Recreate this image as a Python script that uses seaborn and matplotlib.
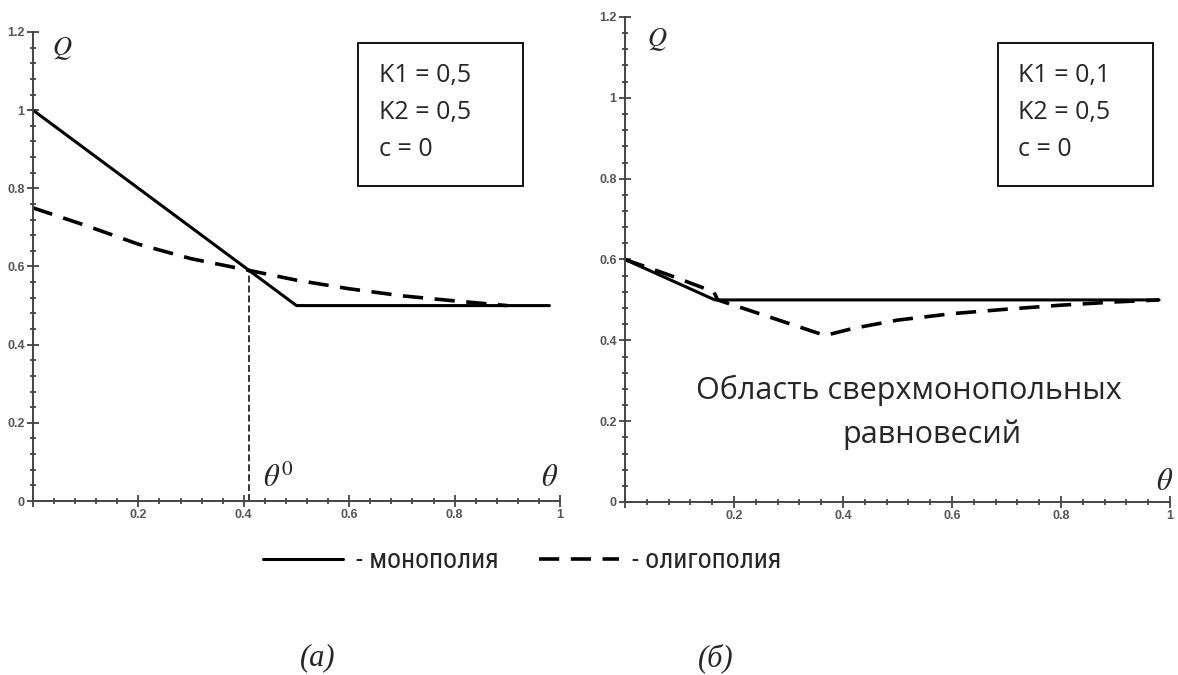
import numpy as np
import pandas as pd
import matplotlib
matplotlib.use("Agg")
import matplotlib.pyplot as plt
import seaborn as sns
from matplotlib import font_manager
from matplotlib.ticker import MultipleLocator, FuncFormatter
from matplotlib.patches import Rectangle


# ============================================================
# ДАННЫЕ
# ============================================================

# (а) K1 = 0,5; K2 = 0,5; c = 0
theta_mono_a = [0.0, 0.5, 0.98]
q_mono_a = [1.0, 0.5, 0.5]
theta_olig_a = [0.0, 0.1, 0.2, 0.3, 0.41, 0.5, 0.6, 0.7, 0.8, 0.9]
q_olig_a = [0.75, 0.705, 0.657, 0.62, 0.59, 0.565, 0.543, 0.525, 0.512, 0.5]
theta0 = 0.41
q_theta0 = 0.59

# (б) K1 = 0,1; K2 = 0,5; c = 0
theta_mono_b = [0.0, 0.165, 0.98]
q_mono_b = [0.6, 0.5, 0.5]
theta_olig_b = [0.0, 0.08, 0.163, 0.17, 0.26, 0.367, 0.42, 0.5, 0.6, 0.7, 0.8, 0.9, 0.98]
q_olig_b = [0.6, 0.562, 0.52, 0.5, 0.46, 0.412, 0.43, 0.45, 0.466, 0.477, 0.487, 0.495, 0.5]

params_a = ["K1 = 0,5", "K2 = 0,5", "c = 0"]
params_b = ["K1 = 0,1", "K2 = 0,5", "c = 0"]
legend_labels = ["- монополия", "- олигополия"]
panel_labels = ["(а)", "(б)"]
region_text = ["Область сверхмонопольных", "равновесий"]

W, H = 1178, 675


def fx(px):
    return px / W


def fy(py):
    return 1 - py / H


# узкий шрифт для легенды, если есть
names = {f.name for f in font_manager.fontManager.ttflist}
narrow = [n for n in ["Liberation Sans Narrow", "Arial Narrow", "Roboto Condensed",
                      "Open Sans Condensed"] if n in names]
condensed_ok = any(f.name == "DejaVu Sans" and f.stretch == "condensed"
                   for f in font_manager.fontManager.ttflist)
if narrow:
    legend_prop = {"family": [narrow[0], "DejaVu Sans"], "size": 20}
elif condensed_ok:
    legend_prop = {"family": ["DejaVu Sans"], "stretch": "condensed", "size": 17}
else:
    legend_prop = {"family": ["Open Sans", "DejaVu Sans"], "size": 16}


# ============================================================
# ПОСТРОЕНИЕ
# ============================================================

sns.set_style("ticks")
plt.rcParams["mathtext.fontset"] = "stix"
plt.rcParams["font.family"] = ["Open Sans", "DejaVu Sans"]

fig = plt.figure(figsize=(W / 100, H / 100), dpi=100)
ax_a = fig.add_axes([fx(33), fy(501), fx(560) - fx(33), fy(32) - fy(501)])
ax_b = fig.add_axes([fx(625), fy(502), fx(1170) - fx(625), fy(17) - fy(502)])


def draw_panel(ax, th_m, q_m, th_o, q_o):
    sns.lineplot(x=th_m, y=q_m, ax=ax, color="black", lw=2.2,
                 estimator=None, sort=False, clip_on=False)
    sns.lineplot(x=th_o, y=q_o, ax=ax, color="black", lw=2.6,
                 estimator=None, sort=False, clip_on=False)
    ax.lines[-1].set_dashes([5.6, 3.2])

    ax.set_xlim(0, 1)
    ax.set_ylim(0, 1.2)
    ax.xaxis.set_major_locator(MultipleLocator(0.2))
    ax.xaxis.set_minor_locator(MultipleLocator(0.04))
    ax.yaxis.set_major_locator(MultipleLocator(0.2))
    ax.yaxis.set_minor_locator(MultipleLocator(0.04))
    ax.xaxis.set_major_formatter(FuncFormatter(lambda v, p: "" if abs(v) < 1e-9 else f"{v:g}"))
    ax.yaxis.set_major_formatter(FuncFormatter(lambda v, p: f"{v:g}"))
    ax.tick_params(which="major", direction="inout", length=8, width=1.3,
                   color="#444444", labelsize=9, labelcolor="#555555", pad=2)
    ax.tick_params(which="minor", direction="inout", length=4, width=1.3,
                   color="#444444")
    for lab in ax.get_xticklabels() + ax.get_yticklabels():
        lab.set_family("Liberation Sans")
        lab.set_weight("bold")
    sns.despine(ax=ax)
    for side in ["left", "bottom"]:
        ax.spines[side].set_color("#444444")
        ax.spines[side].set_linewidth(1.4)
    ax.set_xlabel("")
    ax.set_ylabel("")
    ax.patch.set_alpha(0)


draw_panel(ax_a, theta_mono_a, q_mono_a, theta_olig_a, q_olig_a)
draw_panel(ax_b, theta_mono_b, q_mono_b, theta_olig_b, q_olig_b)

# пунктир на theta^0
ax_a.vlines(theta0, 0, q_theta0, color="black", lw=1.1, linestyles=(0, (4.5, 2)))

# подписи осей
ax_a.text(0.036, 1.142, r"$Q$", fontsize=19, va="baseline", ha="left")
ax_b.text(0.040, 1.128, r"$Q$", fontsize=19, va="baseline", ha="left")
ax_a.text(0.98, 0.038, r"$\theta$", fontsize=22, va="baseline", ha="center")
ax_b.text(0.99, 0.03, r"$\theta$", fontsize=22, va="baseline", ha="center")
ax_a.text(0.436, 0.036, r"$\theta^0$", fontsize=22, va="baseline", ha="left")

# область сверхмонопольных равновесий
ax_b.text(0.521, 0.255, region_text[0], fontsize=22, ha="center", va="baseline")
ax_b.text(0.563, 0.146, region_text[1], fontsize=22, ha="center", va="baseline")

# рамки с параметрами
for (x0, x1), txt_x, params in [((358, 523), 379, params_a), ((998, 1153), 1018, params_b)]:
    fig.patches.append(Rectangle((fx(x0), fy(186)), fx(x1) - fx(x0), fy(43) - fy(186),
                                 transform=fig.transFigure, fill=False,
                                 edgecolor="black", lw=1.3))
    for i, s in enumerate(params):
        fig.text(fx(txt_x), fy(82 + 37 * i), s, fontsize=18, ha="left", va="baseline")

# легенда
fs_px = legend_prop["size"] * 100 / 72
handles = [ax_a.lines[0], ax_a.lines[1]]
fig.legend(handles, legend_labels, loc="center left", bbox_to_anchor=(fx(263), fy(561)),
           ncol=2, frameon=False, handlelength=80 / fs_px, handletextpad=13 / fs_px,
           columnspacing=40 / fs_px, borderpad=0, borderaxespad=0, prop=legend_prop)

# подписи панелей
fig.text(fx(318), fy(658), panel_labels[0], fontsize=22, style="italic",
         family=["Liberation Serif", "DejaVu Serif"], ha="center", va="center")
fig.text(fx(716), fy(658), panel_labels[1], fontsize=22, style="italic",
         family=["Liberation Serif", "DejaVu Serif"], ha="center", va="center")

fig.savefig("out.png", dpi=100)
